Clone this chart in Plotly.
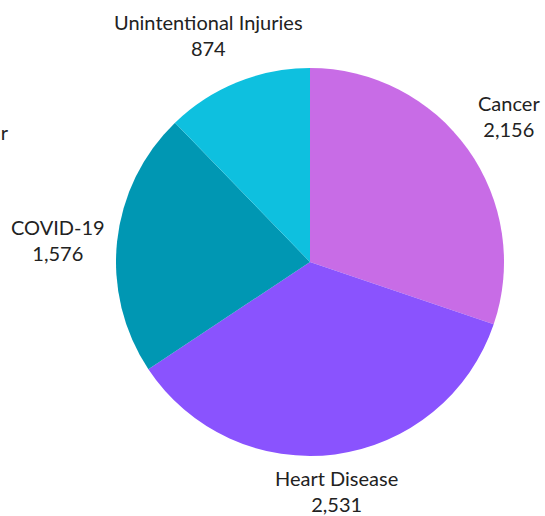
import numpy as np
import plotly.graph_objects as go

labels = ["Cancer", "Heart Disease", "COVID-19", "Unintentional Injuries"]
values = [2156, 2531, 1576, 874]
colors = ["#C86CE6", "#8A53FE", "#0097B3", "#0EC0DF"]

W, H = 545, 516
CX, CY, R = 310, 262, 194       # pie centre / radius in pixels
FONT = dict(family="Lato, Carlito, sans-serif", size=20, color="#222222")

# label placement style: how the label box hangs off its anchor point
# (x fraction: +1 = box to the right, y fraction: +1 = box above) and extra gap
label_hang = [(1.0, 1.0), (0.0, -1.0), (-1.0, 0.0), (-0.22, 1.0)]
label_gap = [10, 10, 10, 22]

dom_x = [(CX - R) / W, (CX + R) / W]
dom_y = [1 - (CY + R) / H, 1 - (CY - R) / H]

fig = go.Figure(go.Pie(
    labels=labels,
    values=values,
    sort=False,
    direction="clockwise",
    rotation=0,
    marker=dict(colors=colors, line=dict(color="white", width=0)),
    textinfo="none",
    domain=dict(x=dom_x, y=dom_y),
    showlegend=False,
    hoverinfo="label+value+percent",
))

vals = np.array(values, dtype=float)
mid = (np.cumsum(vals) - vals / 2) / vals.sum() * 2 * np.pi
char_w = 0.43 * FONT["size"]
for lab, v, a, (fx, fy), g in zip(labels, values, mid, label_hang, label_gap):
    s, c = np.sin(a), np.cos(a)
    px = CX + (R + g) * s
    py = CY - (R + g) * c
    xshift = 0
    if fx >= 1:
        xa = "left"
    elif fx <= -1:
        xa = "right"
    else:
        xa = "center"
        xshift = fx * char_w * max(len(lab), len(f"{v:,}")) / 2
    ya = "bottom" if fy >= 1 else ("top" if fy <= -1 else "middle")
    fig.add_annotation(
        text=f"{lab}<br>{v:,}", xref="paper", yref="paper",
        x=px / W, y=1 - py / H, xanchor=xa, yanchor=ya, xshift=xshift,
        showarrow=False, font=FONT, align="center",
    )

fig.add_annotation(
    text="Year", xref="paper", yref="paper", x=11 / W, y=1 - 132 / H,
    xanchor="right", yanchor="middle", showarrow=False, font=FONT,
)

fig.update_layout(
    width=W, height=H,
    margin=dict(l=0, r=0, t=0, b=0),
    paper_bgcolor="white", plot_bgcolor="white",
)

fig.write_html("out.html", config={"displayModeBar": False},
               post_script="document.body.style.margin='0';")
